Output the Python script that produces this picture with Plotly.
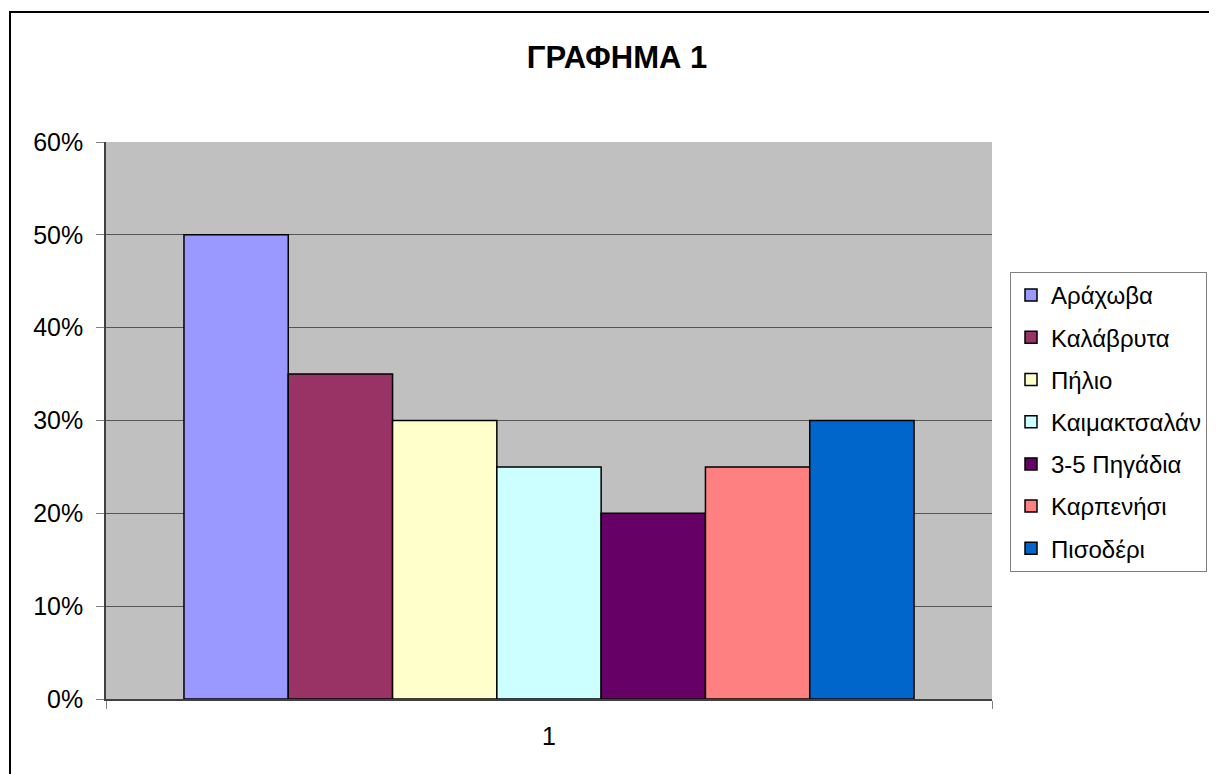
import plotly.graph_objects as go

categories = ["1"]
series_names = ["Αράχωβα", "Καλάβρυτα", "Πήλιο", "Καιμακτσαλάν", "3-5 Πηγάδια", "Καρπενήσι", "Πισοδέρι"]
series_values = [0.50, 0.35, 0.30, 0.25, 0.20, 0.25, 0.30]
series_colors = ["#9999FF", "#993366", "#FFFFCC", "#CCFFFF", "#660066", "#FF8080", "#0066CC"]
y_ticks = [0, 0.1, 0.2, 0.3, 0.4, 0.5, 0.6]
y_ticktext = ["0%", "10%", "20%", "30%", "40%", "50%", "60%"]

OFF = 8  # page body margin
W, H = 1217 - OFF, 774 - OFF
L, R, T, B = 106 - OFF, 992 - OFF, 142 - OFF, 699 - OFF
pw, ph = R - L, B - T

fig = go.Figure()
for name, val, col in zip(series_names, series_values, series_colors):
    fig.add_trace(go.Bar(
        x=categories, y=[val], name=name, legendgroup=name,
        marker=dict(color=col, line=dict(color="black", width=1.5)),
    ))

font_family = "Liberation Sans, Arial, sans-serif"

fig.update_layout(
    width=W, height=H,
    margin=dict(l=L, r=W - R, t=T, b=H - B, autoexpand=False),
    paper_bgcolor="white",
    plot_bgcolor="#C0C0C0",
    barmode="group",
    bargap=0.176,
    bargroupgap=0,
    font=dict(family=font_family, size=25, color="black"),
    title=dict(text="<b>ΓΡΑΦΗΜΑ 1</b>", x=(617 - OFF) / W, xanchor="center",
               y=1 - (57 - OFF) / H, yanchor="middle",
               font=dict(size=31, family=font_family, color="black")),
    showlegend=True,
    legend=dict(
        x=(1010 - OFF - L) / pw, xanchor="left",
        y=(B - (272 - OFF)) / ph, yanchor="top",
        bgcolor="white", bordercolor="#808080", borderwidth=1,
        font=dict(size=24, family=font_family),
        tracegroupgap=8,
        traceorder="grouped",
    ),
    xaxis=dict(
        range=[-0.5, 0.5], showgrid=False, showline=True, linecolor="#404040", linewidth=1.5,
        ticks="outside", ticklen=8, tickcolor="#808080", tickson="boundaries",
        ticklabelstandoff=14, tickfont=dict(size=25), zeroline=False,
    ),
    yaxis=dict(
        range=[0, 0.6], tickvals=y_ticks, ticktext=y_ticktext,
        showgrid=True, gridcolor="#555555", gridwidth=1,
        showline=True, linecolor="#404040", linewidth=1.5,
        ticks="outside", ticklen=8, tickcolor="#808080",
        ticklabelstandoff=8, tickfont=dict(size=25), zeroline=False,
    ),
    shapes=[dict(type="rect", xref="paper", yref="paper",
                 x0=(10 - OFF - L) / pw, x1=1.5, y0=-0.5, y1=(B - (12 - OFF)) / ph,
                 line=dict(color="black", width=2), fillcolor="rgba(0,0,0,0)",
                 layer="above")],
)

fig.write_html("out.html")
